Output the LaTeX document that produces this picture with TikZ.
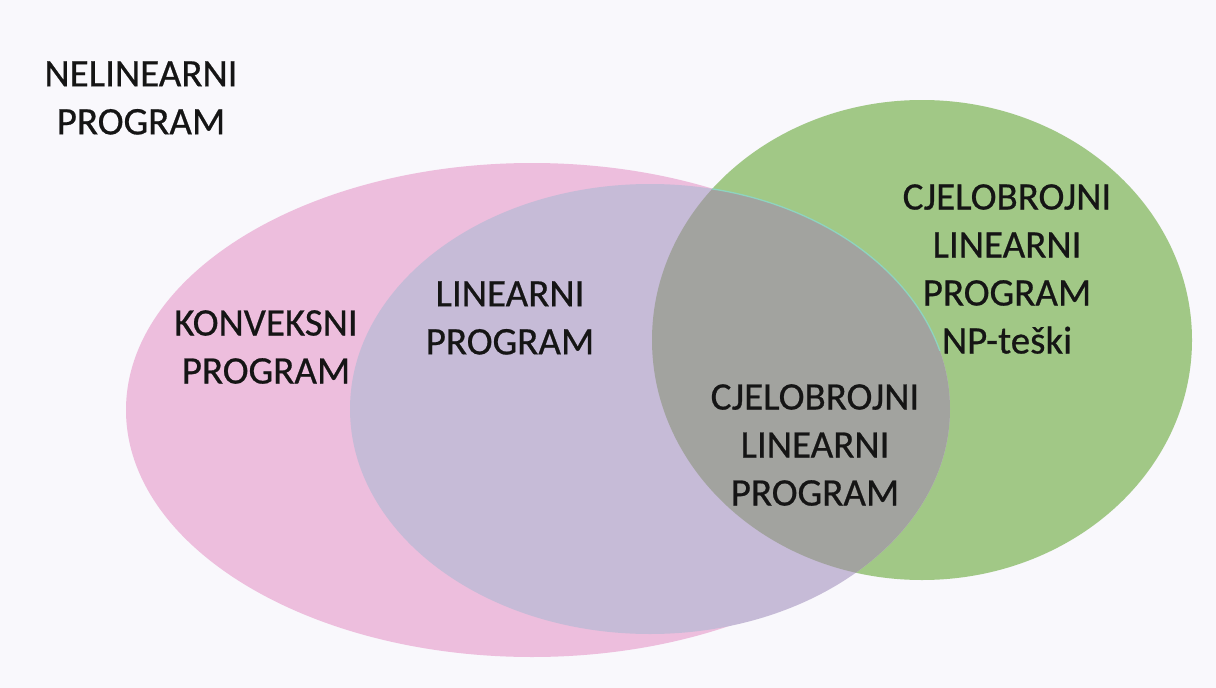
\documentclass[tikz,border=0pt]{standalone}
\usepackage{fontspec}
\setmainfont{Carlito}
\newfontfamily\lblfont{Carlito}[FakeBold=0.6]
\definecolor{bgc}{HTML}{F9F8FC}
\definecolor{pinkc}{HTML}{EDBEDD}
\definecolor{lavc}{HTML}{C6BBD7}
\definecolor{greenc}{HTML}{A1C886}
\definecolor{greyc}{HTML}{A2A39F}
\definecolor{edgec}{HTML}{8ED4C0}
\definecolor{txtc}{HTML}{151515}
\begin{document}
\begin{tikzpicture}[x=1pt,y=-1pt,
  lbl/.style={align=center, inner sep=0pt, text=txtc,
    font=\lblfont\fontsize{39}{48}\selectfont}]
\fill[bgc] (0,0) rectangle (1216,688);
\useasboundingbox (0,0) rectangle (1216,688);
% pink: convex programs
\fill[pinkc] (532,410) ellipse [x radius=406pt, y radius=247pt];
% green: integer linear programs
\fill[greenc] (922,340) ellipse [x radius=270pt, y radius=240pt];
% lavender: linear programs
\fill[lavc] (650,409) ellipse [x radius=300pt, y radius=225pt];
% grey: intersection of linear and green
\begin{scope}
  \clip (922,340) ellipse [x radius=270pt, y radius=240pt];
  \fill[greyc] (650,409) ellipse [x radius=300pt, y radius=225pt];
  \clip (600,170) rectangle (1000,350);
  \draw[edgec, line width=1.3pt] (650,409) ellipse [x radius=300pt, y radius=225pt];
\end{scope}
% labels
\node[lbl] (nelin) at (141,98) {NELINEARNI\\PROGRAM};
\node[lbl] (konv) at (266,347) {KONVEKSNI\\PROGRAM};
\node[lbl] (lin) at (510,318) {LINEARNI\\PROGRAM};
\node[lbl] (cjnp) at (1007,269) {CJELOBROJNI\\LINEARNI\\PROGRAM\\NP-teški};
\node[lbl] (cjlp) at (815,445) {CJELOBROJNI\\LINEARNI\\PROGRAM};
\end{tikzpicture}
\end{document}
